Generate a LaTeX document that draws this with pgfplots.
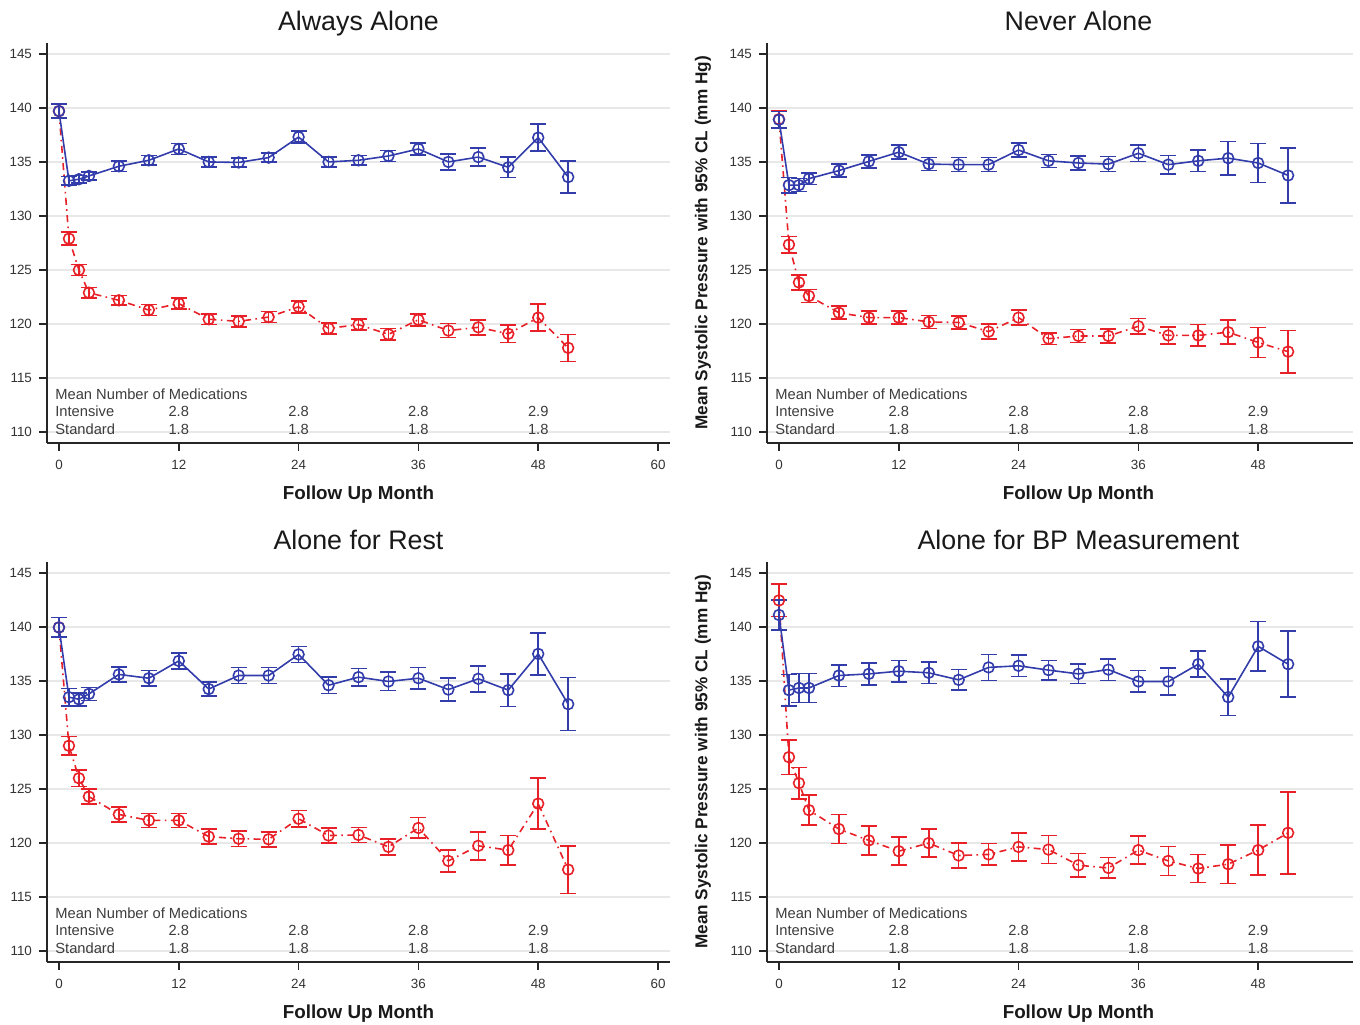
\documentclass[border=0pt]{standalone}
\usepackage{pgfplots}
\pgfplotsset{compat=1.18}
\usepackage{pgfplotstable}
\usepackage{fontspec}
\setmainfont{Liberation Sans}
\definecolor{bcol}{RGB}{50,60,170}
\definecolor{rcol}{RGB}{232,32,40}
\definecolor{anncol}{RGB}{60,60,60}

% ---------- data: month, mean, half-width of 95% CL ----------
\pgfplotstableread{
m v e
0 139.7 0.65
1 133.25 0.4
2 133.4 0.35
3 133.7 0.35
6 134.6 0.5
9 135.15 0.45
12 136.2 0.5
15 135.0 0.45
18 134.95 0.4
21 135.4 0.4
24 137.3 0.55
27 135.0 0.45
30 135.15 0.45
33 135.55 0.5
36 136.2 0.55
39 135.0 0.75
42 135.45 0.85
45 134.5 0.95
48 137.25 1.25
51 133.6 1.5
}\AAstd
\pgfplotstableread{
m v e
0 139.7 0.65
1 127.9 0.6
2 125.0 0.5
3 122.9 0.5
6 122.2 0.45
9 121.3 0.5
12 121.9 0.5
15 120.45 0.5
18 120.25 0.5
21 120.65 0.5
24 121.6 0.55
27 119.6 0.5
30 119.95 0.5
33 119.05 0.55
36 120.4 0.55
39 119.4 0.65
42 119.7 0.7
45 119.1 0.8
48 120.6 1.25
51 117.8 1.25
}\AAint
\pgfplotstableread{
m v e
0 138.9 0.75
1 132.85 0.7
2 132.85 0.6
3 133.45 0.55
6 134.2 0.6
9 135.05 0.6
12 135.9 0.65
15 134.8 0.6
18 134.75 0.65
21 134.75 0.65
24 136.1 0.65
27 135.1 0.6
30 134.9 0.65
33 134.8 0.7
36 135.8 0.75
39 134.75 0.85
42 135.1 1.0
45 135.35 1.55
48 134.9 1.8
51 133.75 2.55
}\NAstd
\pgfplotstableread{
m v e
0 138.95 0.8
1 127.35 0.75
2 123.85 0.7
3 122.6 0.6
6 121.05 0.6
9 120.6 0.6
12 120.6 0.6
15 120.2 0.6
18 120.15 0.6
21 119.3 0.7
24 120.6 0.7
27 118.65 0.55
30 118.9 0.6
33 118.9 0.65
36 119.8 0.7
39 118.95 0.8
42 118.95 1.0
45 119.25 1.1
48 118.3 1.4
51 117.45 1.95
}\NAint
\pgfplotstableread{
m v e
0 139.95 0.9
1 133.5 0.8
2 133.3 0.6
3 133.8 0.6
6 135.6 0.7
9 135.25 0.7
12 136.85 0.75
15 134.25 0.65
18 135.5 0.75
21 135.5 0.75
24 137.45 0.75
27 134.6 0.75
30 135.35 0.8
33 134.95 0.85
36 135.25 1.0
39 134.2 1.05
42 135.2 1.2
45 134.15 1.5
48 137.5 1.95
51 132.85 2.45
}\ARstd
\pgfplotstableread{
m v e
0 139.95 0.9
1 129.0 0.85
2 126.0 0.75
3 124.3 0.7
6 122.65 0.7
9 122.1 0.65
12 122.1 0.65
15 120.6 0.7
18 120.4 0.7
21 120.35 0.7
24 122.25 0.75
27 120.7 0.7
30 120.75 0.7
33 119.65 0.75
36 121.4 0.95
39 118.35 1.0
42 119.75 1.3
45 119.35 1.35
48 123.65 2.35
51 117.55 2.2
}\ARint
\pgfplotstableread{
m v e
0 141.1 1.4
1 134.15 1.45
2 134.35 1.35
3 134.35 1.35
6 135.5 1.0
9 135.65 1.0
12 135.9 1.0
15 135.75 1.0
18 135.1 0.95
21 136.25 1.2
24 136.4 1.0
27 136.0 0.9
30 135.65 0.9
33 136.05 1.0
36 134.95 1.0
39 134.95 1.25
42 136.55 1.2
45 133.5 1.7
48 138.2 2.3
51 136.55 3.05
}\ABstd
\pgfplotstableread{
m v e
0 142.45 1.5
1 127.95 1.6
2 125.55 1.45
3 123.05 1.4
6 121.3 1.35
9 120.25 1.35
12 119.25 1.3
15 120.0 1.3
18 118.85 1.15
21 118.95 1.0
24 119.65 1.3
27 119.4 1.3
30 117.95 1.1
33 117.7 0.95
36 119.35 1.3
39 118.35 1.35
42 117.65 1.3
45 118.05 1.8
48 119.35 2.3
51 120.95 3.8
}\ABint

\pgfplotsset{
  panel/.style={scale only axis, clip=false, height=200pt,
    ymin=109, ymax=146, xmin=-1.2,
    axis x line*=bottom, axis y line*=left,
    axis line style={black!85, line width=0.8pt, -},
    tick align=outside, major tick length=4pt,
    tick style={black!85, line width=0.8pt},
    ytick={110,115,...,145},
    ymajorgrids, grid style={line width=0.9pt, black!9},
    /pgf/number format/assume math mode=true,
    tick label style={font=\fontsize{6.7}{8}\selectfont, text=black!80},
    xticklabel style={yshift=-1pt},
  },
  leftpanel/.style={panel, width=311.5pt, xmax=61.2, xtick={0,12,...,60}},
  rightpanel/.style={panel, width=293pt, xmax=57.5, xtick={0,12,...,48},
    ylabel={Mean Systolic Pressure with 95\% CL (mm Hg)},
    ylabel style={at={(axis description cs:-0.1092,0.5)}, anchor=center,
      font=\bfseries\fontsize{8.6}{10}\selectfont, text=black!90}},
  stdser/.style={color=bcol, line width=0.8pt, mark=o, mark size=2.7pt,
    mark options={solid, line width=0.8pt},
    error bars/.cd, y dir=both, y explicit,
    error bar style={solid, line width=0.8pt},
    error mark options={rotate=90, mark size=4pt, line width=0.8pt, solid}},
  intser/.style={color=rcol, line width=0.8pt,
    dash pattern=on 3.5pt off 2.2pt on 0.8pt off 2.2pt,
    mark=o, mark size=2.7pt, mark options={solid, line width=0.8pt},
    error bars/.cd, y dir=both, y explicit,
    error bar style={solid, line width=0.8pt},
    error mark options={rotate=90, mark size=4pt, line width=0.8pt, solid}},
}

\newcommand\meds{%
  \node[anchor=west, inner sep=0pt, font=\fontsize{7.35}{8}\selectfont, text=anncol] at (axis cs:-0.4,113.55) {Mean Number of Medications};
  \node[anchor=west, inner sep=0pt, font=\fontsize{7.35}{8}\selectfont, text=anncol] at (axis cs:-0.4,111.95) {Intensive};
  \node[anchor=west, inner sep=0pt, font=\fontsize{7.35}{8}\selectfont, text=anncol] at (axis cs:-0.4,110.3) {Standard};
  \node[font=\fontsize{7.35}{8}\selectfont, text=anncol] at (axis cs:12,111.95) {2.8};
  \node[font=\fontsize{7.35}{8}\selectfont, text=anncol] at (axis cs:24,111.95) {2.8};
  \node[font=\fontsize{7.35}{8}\selectfont, text=anncol] at (axis cs:36,111.95) {2.8};
  \node[font=\fontsize{7.35}{8}\selectfont, text=anncol] at (axis cs:48,111.95) {2.9};
  \node[font=\fontsize{7.35}{8}\selectfont, text=anncol] at (axis cs:12,110.3) {1.8};
  \node[font=\fontsize{7.35}{8}\selectfont, text=anncol] at (axis cs:24,110.3) {1.8};
  \node[font=\fontsize{7.35}{8}\selectfont, text=anncol] at (axis cs:36,110.3) {1.8};
  \node[font=\fontsize{7.35}{8}\selectfont, text=anncol] at (axis cs:48,110.3) {1.8};
  \node[anchor=base, font=\bfseries\fontsize{9.4}{11}\selectfont, text=black!90, yshift=-28.3pt] at (axis cs:30,109) {Follow Up Month};
}
\newcommand\ttl[1]{%
  \node[anchor=base, font=\fontsize{13.4}{15}\selectfont, text=black!90, yshift=6.2pt] at (axis cs:30,146) {#1};
}

\begin{document}
\begin{tikzpicture}
\path[use as bounding box] (0,0) rectangle (680pt,512pt);

\begin{axis}[leftpanel, at={(23.5pt,290.5pt)}, anchor=south west]
\addplot[intser] table[x=m, y=v, y error=e] {\AAint};
\addplot[stdser] table[x=m, y=v, y error=e] {\AAstd};
\meds
\ttl{Always Alone}
\end{axis}

\begin{axis}[rightpanel, at={(383.5pt,290.5pt)}, anchor=south west]
\addplot[intser] table[x=m, y=v, y error=e] {\NAint};
\addplot[stdser] table[x=m, y=v, y error=e] {\NAstd};
\meds
\ttl{Never Alone}
\end{axis}

\begin{axis}[leftpanel, at={(23.5pt,31pt)}, anchor=south west]
\addplot[intser] table[x=m, y=v, y error=e] {\ARint};
\addplot[stdser] table[x=m, y=v, y error=e] {\ARstd};
\meds
\ttl{Alone for Rest}
\end{axis}

\begin{axis}[rightpanel, at={(383.5pt,31pt)}, anchor=south west]
\addplot[intser] table[x=m, y=v, y error=e] {\ABint};
\addplot[stdser] table[x=m, y=v, y error=e] {\ABstd};
\meds
\ttl{Alone for BP Measurement}
\end{axis}
\end{tikzpicture}
\end{document}
